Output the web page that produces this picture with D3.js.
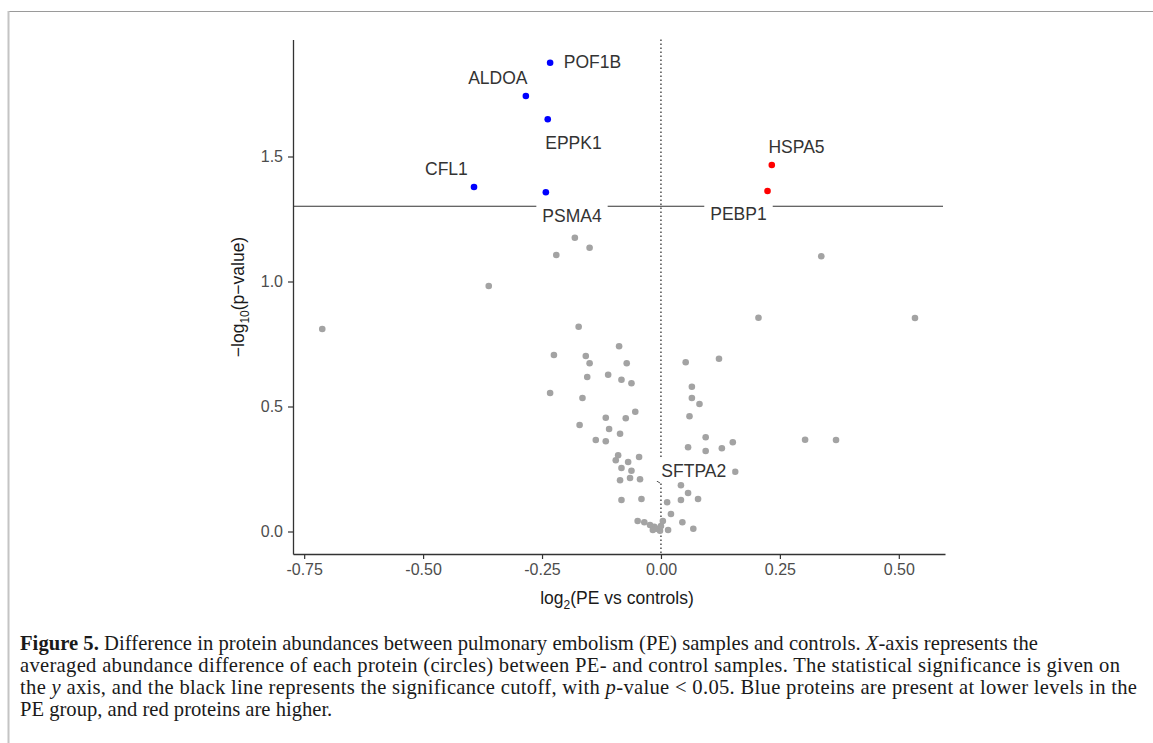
<!DOCTYPE html>
<html>
<head>
<meta charset="utf-8">
<script src="https://cdn.jsdelivr.net/npm/d3@7"></script>
<style>
  body { margin: 0; background: #fff; }
</style>
</head>
<body>
<svg id="svg" width="1153" height="743"></svg>
<script>
// proteins that are not significant (log2 FC, -log10 p)
const otherFC = [-0.712, -0.362, -0.181, -0.150, -0.220, -0.173, -0.088, -0.225, -0.158, -0.150,
  -0.072, -0.111, -0.155, -0.083, -0.062, -0.233, -0.165, -0.054, -0.116, -0.074,
  -0.171, -0.109, -0.086, -0.137, -0.116, -0.090, -0.046, -0.095, -0.069, -0.083,
  -0.062, -0.065, -0.044, -0.086, -0.083, -0.041, -0.049, -0.035, -0.023, -0.014,
  -0.017, -0.009, -0.002, 0.000, 0.004, 0.015, 0.013, 0.021, 0.042, 0.042,
  0.045, 0.057, 0.068, 0.078, 0.052, 0.122, 0.065, 0.065, 0.081, 0.060,
  0.094, 0.057, 0.094, 0.128, 0.151, 0.156, 0.205, 0.337, 0.534, 0.303, 0.368];
const otherP = [0.810, 0.982, 1.175, 1.135, 1.106, 0.819, 0.741, 0.706, 0.702, 0.673,
  0.673, 0.627, 0.618, 0.607, 0.593, 0.554, 0.534, 0.479, 0.455, 0.453,
  0.426, 0.410, 0.391, 0.366, 0.361, 0.305, 0.298, 0.285, 0.278, 0.254,
  0.243, 0.214, 0.209, 0.205, 0.126, 0.130, 0.042, 0.037, 0.026, 0.019,
  0.006, 0.011, 0.003, 0.022, 0.042, 0.006, 0.117, 0.070, 0.185, 0.126,
  0.037, 0.154, 0.011, 0.130, 0.677, 0.691, 0.579, 0.534, 0.510, 0.461,
  0.377, 0.337, 0.322, 0.333, 0.357, 0.239, 0.855, 1.101, 0.854, 0.367, 0.366];

// significant proteins
const hitNames = ["POF1B", "ALDOA", "EPPK1", "CFL1", "PSMA4", "HSPA5", "PEBP1"];
const hitFC = [-0.233, -0.284, -0.238, -0.393, -0.242, 0.233, 0.224];
const hitP = [1.875, 1.742, 1.649, 1.378, 1.357, 1.466, 1.362];

// where the repelled labels ended up (data units, label centre)
const labelNames = ["POF1B", "ALDOA", "EPPK1", "CFL1", "PSMA4", "HSPA5", "PEBP1", "SFTPA2"];
const labelFC = [-0.144, -0.343, -0.184, -0.451, -0.187, 0.285, 0.163, 0.069];
const labelP = [1.879, 1.816, 1.555, 1.451, 1.264, 1.537, 1.271, 0.242];

const xTicks = [-0.75, -0.5, -0.25, 0, 0.25, 0.5];
const yTicks = [0, 0.5, 1, 1.5];
const cutoff = -Math.log10(0.05);

const svg = d3.select("#svg");

// figure frame
svg.append("line").attr("x1", 8).attr("x2", 1153).attr("y1", 11.5).attr("y2", 11.5)
  .attr("stroke", "#9a9a9a").attr("stroke-width", 1.2);
svg.append("line").attr("x1", 8.5).attr("x2", 8.5).attr("y1", 11).attr("y2", 743)
  .attr("stroke", "#c4c4c4").attr("stroke-width", 2);

const x = d3.scaleLinear().domain([-0.7735, 0.5971]).range([293, 945]);
const y = d3.scaleLinear().domain([-0.09, 1.968]).range([554, 39.5]);

const xAxis = g => g
  .attr("transform", `translate(0,${y.range()[0]})`)
  .call(d3.axisBottom(x).tickValues(xTicks).tickFormat(d => d.toFixed(2))
    .tickSize(5).tickSizeOuter(0).tickPadding(5));
const yAxis = g => g
  .attr("transform", `translate(${x.range()[0]},0)`)
  .call(d3.axisLeft(y).tickValues(yTicks).tickFormat(d => d.toFixed(1))
    .tickSize(5).tickSizeOuter(0).tickPadding(5));

// cutoff and zero line
svg.append("line")
  .attr("x1", x.range()[0]).attr("x2", x.range()[1] - 2)
  .attr("y1", y(cutoff)).attr("y2", y(cutoff))
  .attr("stroke", "#333").attr("stroke-width", 1.2);
svg.append("line")
  .attr("x1", x(0)).attr("x2", x(0))
  .attr("y1", y.range()[1]).attr("y2", y.range()[0])
  .attr("stroke", "#333").attr("stroke-width", 1.3)
  .attr("stroke-dasharray", "1.4,2.6");

[svg.append("g").call(xAxis), svg.append("g").call(yAxis)].forEach(g => {
  g.select(".domain").attr("stroke", "#333").attr("stroke-width", 1.3);
  g.selectAll(".tick line").attr("stroke", "#333").attr("stroke-width", 1.2);
  g.selectAll(".tick text").attr("fill", "#4d4d4d")
    .attr("font-family", "Liberation Sans, Arial, sans-serif").attr("font-size", 16);
});

// points
svg.append("g").selectAll("circle")
  .data(d3.range(otherFC.length))
  .join("circle")
  .attr("cx", i => x(otherFC[i]))
  .attr("cy", i => y(otherP[i]))
  .attr("r", 3.3)
  .attr("fill", "#a3a3a3");

svg.append("g").selectAll("circle")
  .data(d3.range(hitNames.length))
  .join("circle")
  .attr("cx", i => x(hitFC[i]))
  .attr("cy", i => y(hitP[i]))
  .attr("r", 3.3)
  .attr("fill", i => hitFC[i] < 0 ? "#0000ff" : "#ff0000");

// little repel segment for SFTPA2
svg.append("line")
  .attr("x1", x(-0.009)).attr("y1", y(0.202))
  .attr("x2", x(-0.002)).attr("y2", y(0.194))
  .attr("stroke", "#555").attr("stroke-width", 1);

// labels with white boxes
const labels = svg.append("g")
  .attr("font-family", "Liberation Sans, Arial, sans-serif")
  .attr("font-size", 17.5);
labelNames.forEach((name, i) => {
  const cx = x(labelFC[i]), cy = y(labelP[i]);
  const g = labels.append("g");
  const rect = g.append("rect").attr("fill", "#fff");
  const t = g.append("text")
    .attr("x", cx).attr("y", cy + 6.2)
    .attr("text-anchor", "middle")
    .attr("fill", "#333")
    .text(name);
  const w = t.node().getComputedTextLength();
  rect.attr("x", cx - w / 2 - 6).attr("width", w + 12)
    .attr("y", cy - 14).attr("height", 24);
});

// axis titles
const yt = svg.append("text")
  .attr("transform", "translate(244,297) rotate(-90)")
  .attr("text-anchor", "middle")
  .attr("font-family", "Liberation Sans, Arial, sans-serif")
  .attr("font-size", 17.5)
  .attr("fill", "#1a1a1a");
yt.append("tspan").text("\u2212log");
yt.append("tspan").attr("font-size", 12).attr("dy", 5).text("10");
yt.append("tspan").attr("dy", -5).text("(p\u2212value)");

const xt = svg.append("text")
  .attr("x", 617).attr("y", 604)
  .attr("text-anchor", "middle")
  .attr("font-family", "Liberation Sans, Arial, sans-serif")
  .attr("font-size", 17.5)
  .attr("fill", "#1a1a1a");
xt.append("tspan").text("log");
xt.append("tspan").attr("font-size", 12).attr("dy", 5).text("2");
xt.append("tspan").attr("dy", -5).text("(PE vs controls)");

// caption
const captionLines = [
  [["b", "Figure 5."], ["", " Difference in protein abundances between pulmonary embolism (PE) samples and controls. "], ["i", "X"], ["", "-axis represents the"]],
  [["", "averaged abundance difference of each protein (circles) between PE- and control samples. The statistical significance is given on"]],
  [["", "the "], ["i", "y"], ["", " axis, and the black line represents the significance cutoff, with "], ["i", "p"], ["", "-value < 0.05. Blue proteins are present at lower levels in the"]],
  [["", "PE group, and red proteins are higher."]]
];
const captionWidths = [1018, 1100, 1117, null];
const cap = svg.append("g")
  .attr("font-family", "Liberation Serif, Times New Roman, serif")
  .attr("font-size", 20.6)
  .attr("fill", "#1a1a1a");
captionLines.forEach((line, i) => {
  const t = cap.append("text").attr("x", 20).attr("y", 650 + i * 22);
  line.forEach(([style, s]) => {
    const sp = t.append("tspan").text(s);
    if (style === "b") sp.attr("font-weight", "bold");
    if (style === "i") sp.attr("font-style", "italic");
  });
  if (captionWidths[i]) t.attr("textLength", captionWidths[i]).attr("lengthAdjust", "spacing");
});
</script>
</body>
</html>
